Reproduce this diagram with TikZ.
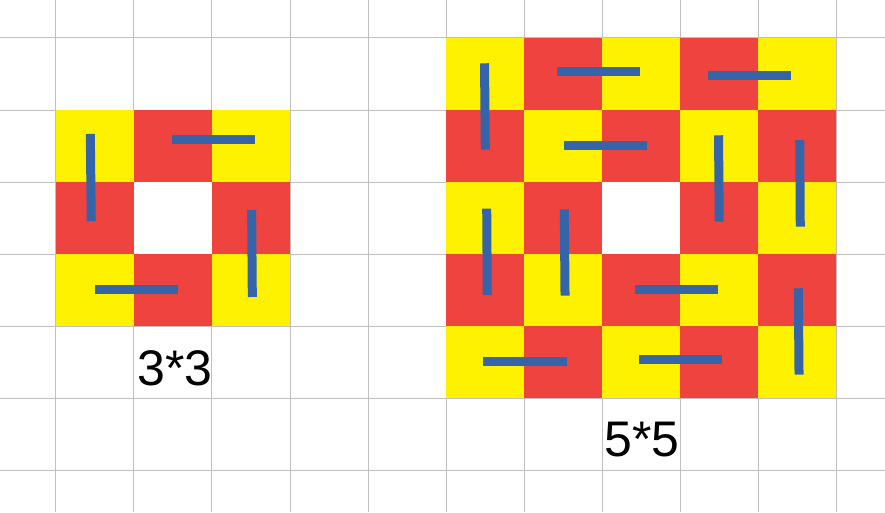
\documentclass[tikz,border=0pt]{standalone}
\usepackage{fontspec}
\setmainfont{Liberation Sans}
\definecolor{cellyellow}{HTML}{FFF200}
\definecolor{cellred}{HTML}{EF4340}
\definecolor{barblue}{HTML}{3565A8}
\definecolor{gridgray}{HTML}{BFBFBF}
\begin{document}
\begin{tikzpicture}[x=1.56cm, y=1.44cm,
        gridline/.style={gridgray, line width=0.02cm},
        domino/.style={barblue, line width=0.18cm},
        boardlabel/.style={font=\fontsize{28.45pt}{34pt}\selectfont, inner sep=0pt}]
        \useasboundingbox (-0.7179,-0.5833) rectangle (10.6282,6.5278);

        % Griglia di sfondo
        \foreach \c in {0,...,10}
            \draw[gridline] (\c,-0.5833) -- (\c,6.5278);
        \foreach \r in {0,...,6}
            \draw[gridline] (-0.7179,\r) -- (10.6282,\r);

        % Scacchiera 3*3 (casella centrale vuota)
        \foreach \i in {0,...,2}
            \foreach \k in {0,...,2} {
                \pgfmathtruncatemacro\odd{mod(\i+\k,2)}
                \ifnum\odd=0 \def\cellcol{cellyellow}\else \def\cellcol{cellred}\fi
                \fill[\cellcol] (\i,5-\k) rectangle (\i+1,4-\k);
            }
        \fill[white] (1,4) rectangle (2,3);

        % Tessere del 3*3
        \draw[domino] (0.440,4.667) -- (0.452,3.458);
        \draw[domino] (1.491,4.593) -- (2.555,4.593);
        \draw[domino] (2.508,3.611) -- (2.517,2.403);
        \draw[domino] (0.504,2.510) -- (1.568,2.510);
        \node[boardlabel] (lab3) at (1.526,1.417) {3*3};

        % Scacchiera 5*5 (casella centrale vuota)
        \foreach \i in {0,...,4}
            \foreach \k in {0,...,4} {
                \pgfmathtruncatemacro\odd{mod(\i+\k,2)}
                \ifnum\odd=0 \def\cellcol{cellyellow}\else \def\cellcol{cellred}\fi
                \fill[\cellcol] (5+\i,6-\k) rectangle (6+\i,5-\k);
            }
        \fill[white] (7,4) rectangle (8,3);

        % Tessere del 5*5
        \draw[domino] (5.494,5.649) -- (5.504,4.449);
        \draw[domino] (6.427,5.535) -- (7.491,5.535);
        \draw[domino] (8.359,5.482) -- (9.423,5.482);
        \draw[domino] (6.517,4.507) -- (7.581,4.507);
        \draw[domino] (8.494,4.649) -- (8.503,3.449);
        \draw[domino] (9.535,4.583) -- (9.542,3.379);
        \draw[domino] (5.522,3.629) -- (5.529,2.431);
        \draw[domino] (6.517,3.621) -- (6.526,2.421);
        \draw[domino] (7.427,2.510) -- (8.491,2.510);
        \draw[domino] (9.517,2.524) -- (9.526,1.324);
        \draw[domino] (5.478,1.507) -- (6.547,1.507);
        \draw[domino] (7.478,1.538) -- (8.542,1.538);
        \node[boardlabel] (lab5) at (7.513,0.417) {5*5};
\end{tikzpicture}
\end{document}
